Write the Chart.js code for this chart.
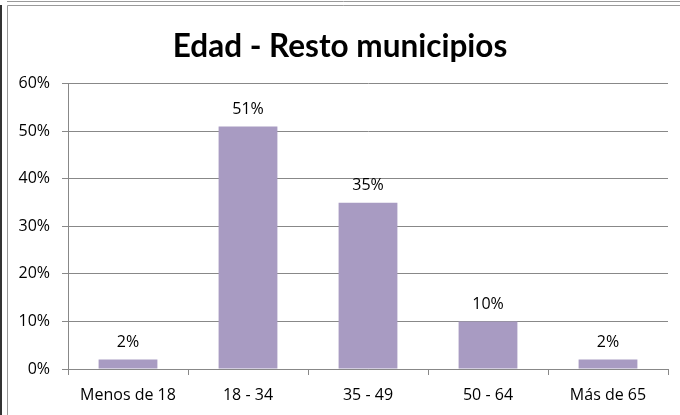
<!DOCTYPE html>
<html>
<head>
<meta charset="utf-8">
<script src="https://cdn.jsdelivr.net/npm/chart.js@4/dist/chart.umd.min.js"></script>
<style>
  html, body { margin: 0; padding: 0; background: #fff; }
  #wrap { width: 680px; height: 415px; position: relative; }
</style>
</head>
<body>
<div id="wrap"><canvas id="c" width="680" height="415"></canvas></div>
<script>
const categories = ["Menos de 18", "18 - 34", "35 - 49", "50 - 64", "Más de 65"];
const values = [2, 51, 35, 10, 2];
const yTicks = [0, 10, 20, 30, 40, 50, 60];
const titleText = "Edad - Resto municipios";

const tickFont = { family: "'Open Sans', sans-serif", size: 16 };

const framePlugin = {
  id: 'frame',
  beforeDraw(chart) {
    const ctx = chart.ctx;
    ctx.save();
    ctx.fillStyle = '#ffffff';
    ctx.fillRect(0, 0, chart.width, chart.height);
    ctx.lineWidth = 1;
    ctx.strokeStyle = '#9a9a9a';
    ctx.beginPath();
    ctx.moveTo(7, 1.5); ctx.lineTo(chart.width, 1.5);
    ctx.moveTo(7.5, 5.5); ctx.lineTo(chart.width, 5.5);
    ctx.moveTo(7.5, 5.5); ctx.lineTo(7.5, chart.height);
    ctx.stroke();
    ctx.strokeStyle = '#333333';
    ctx.lineWidth = 2;
    ctx.beginPath();
    ctx.moveTo(1, 5); ctx.lineTo(1, chart.height);
    ctx.stroke();
    ctx.restore();
  }
};

const labelPlugin = {
  id: 'barLabels',
  afterDatasetsDraw(chart) {
    const ctx = chart.ctx;
    const meta = chart.getDatasetMeta(0);
    ctx.save();
    ctx.font = tickFont.size + 'px ' + tickFont.family;
    ctx.fillStyle = '#000';
    ctx.textAlign = 'center';
    ctx.textBaseline = 'middle';
    meta.data.forEach((bar, i) => {
      ctx.fillText(values[i] + '%', bar.x, bar.y - 17);
    });
    ctx.restore();
  }
};

new Chart(document.getElementById('c'), {
  type: 'bar',
  data: {
    labels: categories,
    datasets: [{
      data: values,
      backgroundColor: '#a89bc2',
      borderWidth: 0,
      barPercentage: 0.49,
      categoryPercentage: 1.0
    }]
  },
  options: {
    responsive: false,
    animation: false,
    devicePixelRatio: 1,
    layout: { padding: { left: 0, right: 0, top: 0, bottom: 0 } },
    plugins: {
      legend: { display: false },
      tooltip: { enabled: false },
      title: {
        display: true,
        text: titleText,
        color: '#000',
        font: { family: "Lato, sans-serif", size: 31.5, weight: 'bold', lineHeight: 1.2 },
        padding: { top: 28, bottom: 18 }
      }
    },
    scales: {
      x: {
        grid: { display: true, drawOnChartArea: false, offset: true, tickLength: 6, color: '#888' },
        border: { display: true, color: '#888' },
        ticks: { color: '#000', font: tickFont, padding: 11, maxRotation: 0 },
        afterFit(scale) { scale.height = 46; }
      },
      y: {
        min: 0, max: 60,
        afterBuildTicks(scale) { scale.ticks = yTicks.map(v => ({ value: v })); },
        grid: { color: '#888', tickLength: 6 },
        border: { display: true, color: '#888' },
        ticks: { color: '#000', font: tickFont, padding: 12, callback: v => v + '%' },
        afterFit(scale) { scale.width = 68; }
      },
      yr: {
        position: 'right',
        display: true,
        min: 0, max: 60,
        grid: { display: false },
        border: { display: false },
        ticks: { display: false },
        afterFit(scale) { scale.width = 12; }
      }
    }
  },
  plugins: [framePlugin, labelPlugin]
});
</script>
</body>
</html>
